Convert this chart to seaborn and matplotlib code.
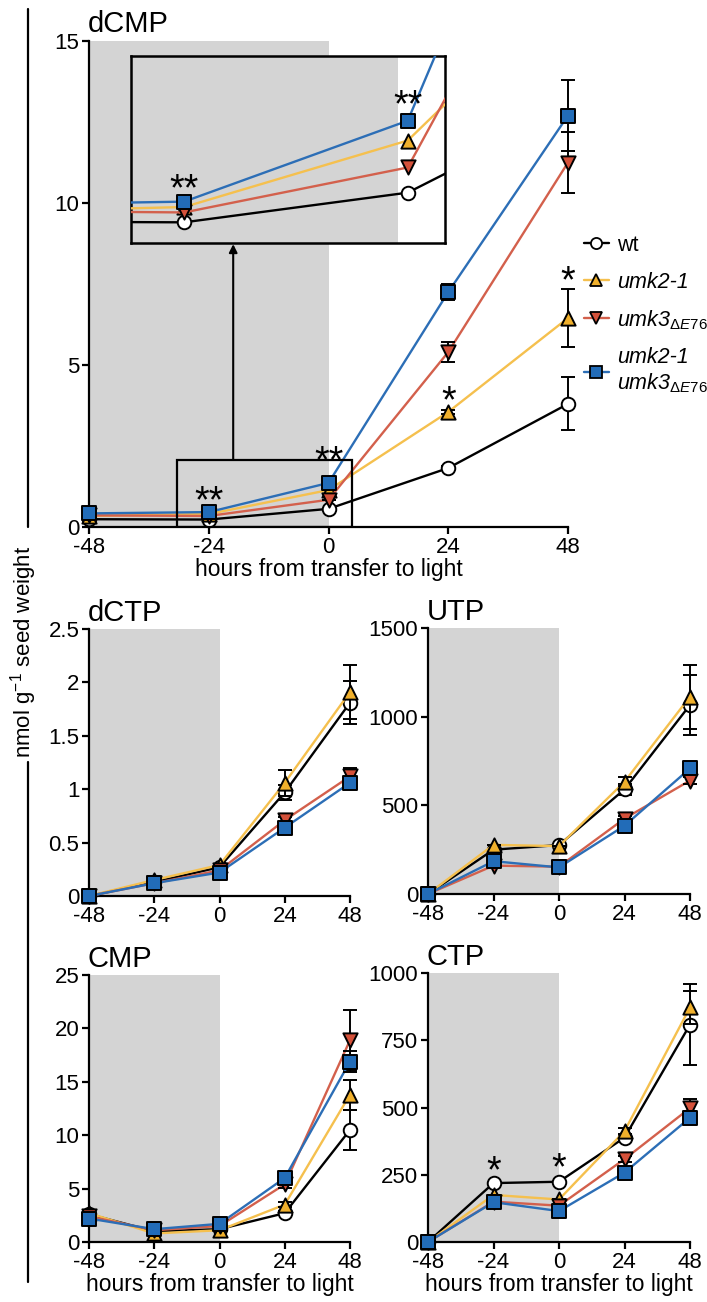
import numpy as np
import pandas as pd
import matplotlib
matplotlib.use("Agg")
import matplotlib.pyplot as plt
import seaborn as sns
from matplotlib.lines import Line2D
from matplotlib.patches import Rectangle
from matplotlib.ticker import FuncFormatter

# ---------------- data ----------------
hours = [-48, -24, 0, 24, 48]
genotypes = ["wt", "umk2-1", "umk3", "umk2-1 umk3"]

# dCMP
dcmp_wt = [0.24, 0.23, 0.56, 1.82, 3.80]
dcmp_umk2 = [0.34, 0.40, 1.14, 3.55, 6.45]
dcmp_umk3 = [0.36, 0.34, 0.84, 5.40, 11.25]
dcmp_dm = [0.42, 0.46, 1.36, 7.25, 12.70]
dcmp_err_wt = [0, 0, 0, 0.05, 0.82]
dcmp_err_umk2 = [0, 0, 0, 0.05, 0.90]
dcmp_err_umk3 = [0, 0, 0, 0.30, 0.95]
dcmp_err_dm = [0, 0, 0, 0.25, 1.10]

# dCTP
dctp_wt = [0.0, 0.13, 0.27, 0.97, 1.81]
dctp_umk2 = [0.0, 0.15, 0.29, 1.06, 1.91]
dctp_umk3 = [0.0, 0.12, 0.24, 0.71, 1.12]
dctp_dm = [0.0, 0.12, 0.22, 0.64, 1.06]
dctp_err_wt = [0, 0, 0, 0.07, 0.20]
dctp_err_umk2 = [0, 0, 0, 0.12, 0.25]
dctp_err_umk3 = [0, 0, 0, 0.03, 0.08]
dctp_err_dm = [0, 0, 0, 0.03, 0.05]

# UTP
utp_wt = [0, 250, 276, 590, 1066]
utp_umk2 = [0, 277, 270, 633, 1113]
utp_umk3 = [0, 160, 154, 425, 640]
utp_dm = [0, 185, 150, 385, 708]
utp_err_wt = [0, 0, 0, 30, 170]
utp_err_umk2 = [0, 0, 0, 25, 180]
utp_err_umk3 = [0, 0, 0, 15, 20]
utp_err_dm = [0, 0, 0, 15, 20]

# CMP
cmp_wt = [2.6, 1.0, 1.2, 2.7, 10.5]
cmp_umk2 = [2.7, 0.8, 1.1, 3.5, 13.8]
cmp_umk3 = [2.4, 1.1, 1.5, 5.4, 18.9]
cmp_dm = [2.2, 1.2, 1.7, 6.0, 16.9]
cmp_err_wt = [0, 0, 0, 0.2, 1.9]
cmp_err_umk2 = [0, 0, 0, 0.2, 1.4]
cmp_err_umk3 = [0, 0, 0, 0.3, 2.8]
cmp_err_dm = [0, 0, 0, 0.3, 1.0]

# CTP
ctp_wt = [0, 219, 224, 388, 808]
ctp_umk2 = [0, 175, 158, 412, 872]
ctp_umk3 = [0, 150, 135, 308, 498]
ctp_dm = [0, 148, 115, 258, 462]
ctp_err_wt = [0, 0, 0, 10, 150]
ctp_err_umk2 = [0, 0, 0, 10, 60]
ctp_err_umk3 = [0, 0, 0, 10, 35]
ctp_err_dm = [0, 0, 0, 10, 25]

line_colors = ["#000000", "#F5C04E", "#D3604C", "#2C6EB6"]
fill_colors = ["#FFFFFF", "#F0B02C", "#D4513A", "#226CB8"]
marker_shapes = ["o", "^", "v", "s"]
marker_sizes = [95, 105, 105, 90]

shade_color = "#D4D4D4"

# ---------------- style ----------------
sns.set_theme(style="ticks")
plt.rcParams["font.family"] = ["Liberation Sans", "DejaVu Sans"]
plt.rcParams["mathtext.fontset"] = "custom"
plt.rcParams["mathtext.rm"] = "Liberation Sans"
plt.rcParams["mathtext.it"] = "Liberation Sans:italic"
plt.rcParams["text.color"] = "black"
plt.rcParams["axes.labelcolor"] = "black"
plt.rcParams["axes.linewidth"] = 1.6
plt.rcParams["xtick.major.width"] = 1.6
plt.rcParams["ytick.major.width"] = 1.6
plt.rcParams["xtick.major.size"] = 5
plt.rcParams["ytick.major.size"] = 5
plt.rcParams["xtick.labelsize"] = 16
plt.rcParams["ytick.labelsize"] = 16
plt.rcParams["xtick.color"] = "black"
plt.rcParams["ytick.color"] = "black"
plt.rcParams["axes.edgecolor"] = "black"

W, H = 707, 1302
fig = plt.figure(figsize=(W / 100, H / 100), dpi=100)


def px_axes(left, top, right, bottom):
    return fig.add_axes([left / W, 1 - bottom / H, (right - left) / W, (bottom - top) / H])


def draw_series(ax, series, errs, clip=False, zbase=3, show_err=True):
    for i, (vals, err) in enumerate(zip(series, errs)):
        df = pd.DataFrame({"h": hours, "v": vals})
        z = zbase + 3 * i
        sns.lineplot(data=df, x="h", y="v", color=line_colors[i], lw=1.7, ax=ax,
                     zorder=z, legend=False, errorbar=None, clip_on=clip)
        if show_err:
            ax.errorbar(hours, vals, yerr=err, fmt="none", ecolor="black",
                        elinewidth=1.4, capsize=5, capthick=1.4, zorder=z + 1,
                        clip_on=clip)
        sns.scatterplot(data=df, x="h", y="v", marker=marker_shapes[i],
                        color=fill_colors[i], edgecolor="black", linewidth=1.4,
                        s=marker_sizes[i], ax=ax, zorder=z + 2, legend=False,
                        clip_on=clip)


def fmt(v, pos):
    return "%g" % v


def style_panel(ax, ylim, yticks, title, title_off=6, xlabel=True):
    ax.set_xlim(-48, 48)
    ax.set_ylim(*ylim)
    ax.set_xticks(hours)
    ax.set_xticklabels([str(h) for h in hours])
    ax.set_yticks(yticks)
    ax.yaxis.set_major_formatter(FuncFormatter(fmt))
    ax.tick_params(axis="both", pad=2)
    sns.despine(ax=ax)
    ax.set_ylabel("")
    if xlabel:
        ax.set_xlabel("hours from transfer to light", fontsize=16.5, labelpad=0)
    else:
        ax.set_xlabel("")
    ax.axvspan(-48, 0, ymin=0, ymax=1, color=shade_color, zorder=0, lw=0)
    ax.annotate(title, xy=(0, 1), xycoords="axes fraction",
                xytext=(-1, title_off), textcoords="offset points",
                fontsize=21, ha="left", va="baseline")


def star(ax, x, y, s, fs=27):
    ax.annotate(s, xy=(x, y), xytext=(0, -0.6 * fs), textcoords="offset points",
                ha="center", va="baseline", fontsize=fs,
                zorder=20, annotation_clip=False)


# ---------------- main dCMP panel ----------------
ax = px_axes(89, 41, 568, 527)
draw_series(ax, [dcmp_wt, dcmp_umk2, dcmp_umk3, dcmp_dm],
            [dcmp_err_wt, dcmp_err_umk2, dcmp_err_umk3, dcmp_err_dm])
style_panel(ax, (0, 15), [0, 5, 10, 15], "dCMP", title_off=6.5)

box_x0, box_x1, box_y1 = -30.3, 4.8, 2.07
ax.add_patch(Rectangle((box_x0, 0), box_x1 - box_x0, box_y1, fill=False,
                       ec="black", lw=1.6, zorder=15))
ax.annotate("", xy=(-19.1, 8.73), xytext=(-19.1, box_y1),
            arrowprops=dict(arrowstyle="-|>", lw=1.5, color="black",
                            shrinkA=0, shrinkB=0, mutation_scale=12), zorder=15)
star(ax, -24, 1.14, "**")
star(ax, 0, 2.38, "**")
star(ax, 24, 4.23, "*")
star(ax, 48, 7.93, "*")

# inset
axi = px_axes(131, 56, 445, 243)
axi.axvspan(-40, -1, color=shade_color, zorder=0, lw=0)
draw_series(axi, [dcmp_wt, dcmp_umk2, dcmp_umk3, dcmp_dm],
            [dcmp_err_wt, dcmp_err_umk2, dcmp_err_umk3, dcmp_err_dm],
            clip=True, show_err=False)
axi.set_xlim(-29.7, 4.0)
axi.set_ylim(0, 2.08)
axi.set_xticks([])
axi.set_yticks([])
axi.set_xlabel("")
axi.set_ylabel("")
axi.set_facecolor("white")
for sp in axi.spines.values():
    sp.set_linewidth(1.8)
    sp.set_color("black")
star(axi, -24, 0.72, "**")
star(axi, 0, 1.66, "**")

# legend
handles = [Line2D([], [], color=line_colors[i], lw=1.7, marker=marker_shapes[i],
                  mfc=fill_colors[i], mec="black", mew=1.3, ms=8)
           for i in range(4)]
sub = r"$_{\mathit{\Delta E76}}$"
labels = ["wt", "umk2-1", "umk3" + sub, "umk2-1\numk3" + sub]
leg = fig.legend(handles, labels, loc="upper left",
                 bbox_to_anchor=(584 / W, 1 - 235 / H), frameon=False,
                 fontsize=15.5, handlelength=1.15, handletextpad=0.4,
                 labelspacing=0.72, borderpad=0, borderaxespad=0)
for t in leg.get_texts()[1:]:
    t.set_fontstyle("italic")

# ---------------- small panels ----------------
ax1 = px_axes(89, 629, 350, 896)
draw_series(ax1, [dctp_wt, dctp_umk2, dctp_umk3, dctp_dm],
            [dctp_err_wt, dctp_err_umk2, dctp_err_umk3, dctp_err_dm])
style_panel(ax1, (0, 2.5), [0, 0.5, 1, 1.5, 2, 2.5], "dCTP", xlabel=False)

ax2 = px_axes(428, 628, 690, 894)
draw_series(ax2, [utp_wt, utp_umk2, utp_umk3, utp_dm],
            [utp_err_wt, utp_err_umk2, utp_err_umk3, utp_err_dm])
style_panel(ax2, (0, 1500), [0, 500, 1000, 1500], "UTP", xlabel=False)

ax3 = px_axes(89, 975, 350, 1242)
draw_series(ax3, [cmp_wt, cmp_umk2, cmp_umk3, cmp_dm],
            [cmp_err_wt, cmp_err_umk2, cmp_err_umk3, cmp_err_dm])
style_panel(ax3, (0, 25), [0, 5, 10, 15, 20, 25], "CMP")

ax4 = px_axes(428, 973, 690, 1242)
draw_series(ax4, [ctp_wt, ctp_umk2, ctp_umk3, ctp_dm],
            [ctp_err_wt, ctp_err_umk2, ctp_err_umk3, ctp_err_dm])
style_panel(ax4, (0, 1000), [0, 250, 500, 750, 1000], "CTP")
star(ax4, -24, 305, "*")
star(ax4, 0, 316, "*")

# ---------------- shared y label and bracket lines ----------------
fig.text(24 / W, 1 - 652 / H, r"nmol g$^{-1}$ seed weight", rotation=90,
         ha="center", va="center", fontsize=16)
fig.add_artist(Line2D([28 / W, 28 / W], [1 - 9 / H, 1 - 527 / H],
                      transform=fig.transFigure, color="black", lw=1.6))
fig.add_artist(Line2D([28 / W, 28 / W], [1 - 762 / H, 1 - 1282 / H],
                      transform=fig.transFigure, color="black", lw=1.6))

fig.savefig("out.png", dpi=100, facecolor="white")
